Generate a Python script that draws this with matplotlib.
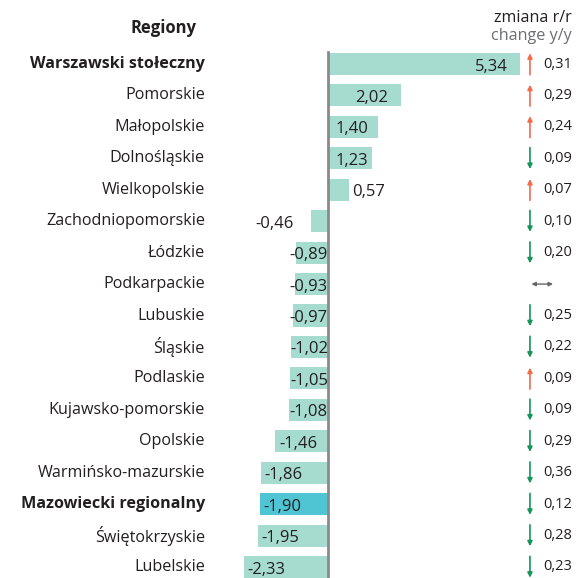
import matplotlib
matplotlib.use("Agg")
import matplotlib.pyplot as plt

# data
regions = ["Warszawski stołeczny", "Pomorskie", "Małopolskie", "Dolnośląskie",
           "Wielkopolskie", "Zachodniopomorskie", "Łódzkie", "Podkarpackie",
           "Lubuskie", "Śląskie", "Podlaskie", "Kujawsko-pomorskie", "Opolskie",
           "Warmińsko-mazurskie", "Mazowiecki regionalny", "Świętokrzyskie",
           "Lubelskie"]
values = [5.34, 2.02, 1.40, 1.23, 0.57, -0.46, -0.89, -0.93, -0.97, -1.02,
          -1.05, -1.08, -1.46, -1.86, -1.90, -1.95, -2.33]
trend = ["up", "up", "up", "down", "up", "down", "down", "flat", "down", "down",
         "up", "down", "down", "down", "down", "down", "down"]
change = [0.31, 0.29, 0.24, 0.09, 0.07, 0.10, 0.20, None, 0.25, 0.22, 0.09,
          0.09, 0.29, 0.36, 0.12, 0.28, 0.23]
bold_rows = ["Warszawski stołeczny", "Mazowiecki regionalny"]

plt.rcParams['font.family'] = ['Open Sans', 'DejaVu Sans']

BAR = '#a6dbd0'
HIGHLIGHT = '#4fc5d4'
UP = '#f26b4a'
DOWN = '#14955a'
TXT = '#231f20'

fig = plt.figure(figsize=(5.79, 5.78), dpi=100)
ax = fig.add_axes([0, 0, 1, 1])
ax.set_xlim(-328 / 36, 251 / 36)
ax.set_ylim(16.35, -2.036)
ax.axis('off')

rows = list(range(len(regions)))
colors = [HIGHLIGHT if r == "Mazowiecki regionalny" else BAR for r in regions]
ax.barh(rows, values, height=0.7, color=colors, zorder=1)
ax.plot([0, 0], [-0.38, 16.4], color='#8a8a8a', lw=2, zorder=3)

for i, (name, v) in enumerate(zip(regions, values)):
    weight = 'bold' if name in bold_rows else 'normal'
    ax.text(-3.42, i, name, ha='right', va='center', fontsize=11.6,
            fontweight=weight, color=TXT)

    lab = f"{v:.2f}".replace('.', ',')
    if v > 1.8:
        x, ha = v - 0.35, 'right'
    elif v > 1.0:
        x, ha = 0.2, 'left'
    elif v > 0:
        x, ha = v + 0.1, 'left'
    elif v > -0.6:
        x, ha = v - 0.5, 'right'
    elif v > -1.2:
        x, ha = 0.0, 'right'
    else:
        x, ha = v + 0.1, 'left'
    ax.text(x, i + 0.08, lab, ha=ha, va='center', fontsize=12, color=TXT,
            zorder=4)

    # y/y change column
    if trend[i] == "flat":
        ax.annotate('', xy=(6.25, i), xytext=(5.65, i),
                    arrowprops=dict(arrowstyle='<|-|>', color='#666666', lw=1,
                                    mutation_scale=6, shrinkA=0, shrinkB=0))
    else:
        col = UP if trend[i] == "up" else DOWN
        y0, y1 = (i + 0.34, i - 0.34) if trend[i] == "up" else (i - 0.34, i + 0.34)
        ax.annotate('', xy=(5.61, y1), xytext=(5.61, y0),
                    arrowprops=dict(arrowstyle='-|>', color=col, lw=1.2,
                                    mutation_scale=7, shrinkA=0, shrinkB=0))
    if change[i] is not None:
        ax.text(5.97, i, f"{change[i]:.2f}".replace('.', ','), ha='left',
                va='center', fontsize=10.5, color=TXT)

ax.text(-4.58, -1.145, "Regiony", ha='center', va='center', fontsize=12,
        fontweight='bold', color=TXT)
ax.text(6.78, -1.46, "zmiana r/r", ha='right', va='center', fontsize=11.6,
        color=TXT)
ax.text(6.78, -0.89, "change y/y", ha='right', va='center', fontsize=11.6,
        color='#6d6e71')

fig.savefig("out.png", dpi=100)
